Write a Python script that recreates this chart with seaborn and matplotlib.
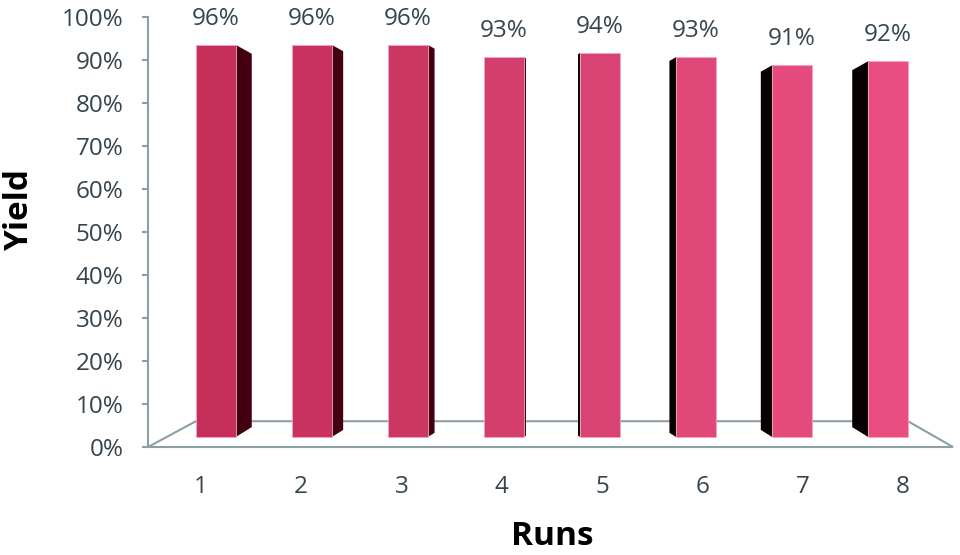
import numpy as np
import pandas as pd
import matplotlib
matplotlib.use("Agg")
import matplotlib.pyplot as plt
import seaborn as sns
from matplotlib.patches import Polygon
from matplotlib.ticker import PercentFormatter

# ========== Data ==========
runs = ["1", "2", "3", "4", "5", "6", "7", "8"]
yields = [96, 96, 96, 93, 94, 93, 91, 92]
y_ticks = [0, 10, 20, 30, 40, 50, 60, 70, 80, 90, 100]
bar_colors = ["#c62f59", "#c93260", "#cc3663", "#d33e6c", "#d94373",
              "#e0487a", "#e64b7e", "#ea4d82"]

# ========== Style ==========
sns.set_style("white")
plt.rcParams["font.family"] = ["Open Sans", "DejaVu Sans"]
text_col = "#36444e"
axis_col = "#8d9ea6"

fig = plt.figure(figsize=(9.6, 5.55), dpi=100)
# axes box: y axis at x=148px, floor front at y=447px, 100% at y=17px
ax = fig.add_axes([148 / 960, 1 - 447 / 555, 805 / 960, 430 / 555])
bx = ax.twinx()   # bars sit slightly raised on the 3D floor

df = pd.DataFrame({"Run": runs, "Yield": yields})
sns.barplot(data=df, x="Run", y="Yield", hue="Run", palette=bar_colors,
            legend=False, width=0.41, saturation=1, ax=bx, zorder=3)
bars = [p for p in bx.patches if p.get_height() > 0]

n = len(runs)
xlim = (-0.708, n - 1 + 0.677)
ax.set_xlim(xlim)
bx.set_xlim(xlim)
ax.set_ylim(0, 100)
by_lo, by_hi = -2.42, 102.8
bx.set_ylim(by_lo, by_hi)

# ----- fake 3D side faces -----
px_x = (xlim[1] - xlim[0]) / 805      # data units per pixel
px_y = (by_hi - by_lo) / 430
centre = (n - 1) / 2
for i, patch in enumerate(bars):
    d = i - centre
    sw = 4.6 * abs(d) * px_x
    drop = 9 * abs(d) / 3.5 * px_y
    rise = 10 * abs(d) / 3.5 * px_y
    x0 = patch.get_x()
    x1 = x0 + patch.get_width()
    h = patch.get_height()
    if d < 0:
        pts = [(x1, 0), (x1 + sw, rise), (x1 + sw, h - drop), (x1, h)]
        fc = "#420010"
    else:
        pts = [(x0, 0), (x0 - sw, rise), (x0 - sw, h - drop), (x0, h)]
        fc = "#080000"
    bx.add_patch(Polygon(pts, closed=True, facecolor=fc, edgecolor="none",
                         zorder=2))
    patch.set_edgecolor("#f3a6bf")
    patch.set_linewidth(0.6)
    bx.annotate(f"{yields[i]}%", (x0 + patch.get_width() / 2, h),
                xytext=(0, 10), textcoords="offset points",
                ha="center", va="bottom", fontsize=17.5, color=text_col)

# ----- floor -----
floor = Polygon([(0, 0), (1, 0), (0.944, 0.06), (0.0596, 0.06)], closed=True,
                transform=ax.transAxes, facecolor="white", edgecolor=axis_col,
                linewidth=1.5, clip_on=False, zorder=1)
ax.add_patch(floor)

# ----- axes styling -----
for s in ["top", "right", "bottom"]:
    ax.spines[s].set_visible(False)
for s in bx.spines.values():
    s.set_visible(False)
ax.spines["left"].set_color(axis_col)
ax.spines["left"].set_linewidth(1.5)

ax.set_yticks(y_ticks)
ax.yaxis.set_major_formatter(PercentFormatter(decimals=0))
ax.tick_params(axis="y", direction="out", length=4.5, width=1.5,
               color=axis_col, pad=13, labelsize=17.5, labelcolor=text_col)
bx.set_yticks([])
bx.set_ylabel("")
bx.set_xlabel("")
bx.tick_params(axis="x", length=0, labelbottom=False)

tick_pos = [centre + (i - centre) * 1.045 for i in range(n)]
ax.set_xticks(tick_pos)
ax.set_xticklabels(runs)
ax.tick_params(axis="x", length=0, pad=20, labelsize=17.5, labelcolor=text_col)

ax.text(-0.159, 0.551, "Yield", transform=ax.transAxes, rotation=90,
        ha="center", va="center", fontsize=24, fontweight="bold", color="black")
ax.text(0.502, -0.207, "Runs", transform=ax.transAxes,
        ha="center", va="center", fontsize=24, fontweight="bold", color="black")

fig.savefig("out.png", dpi=100)
